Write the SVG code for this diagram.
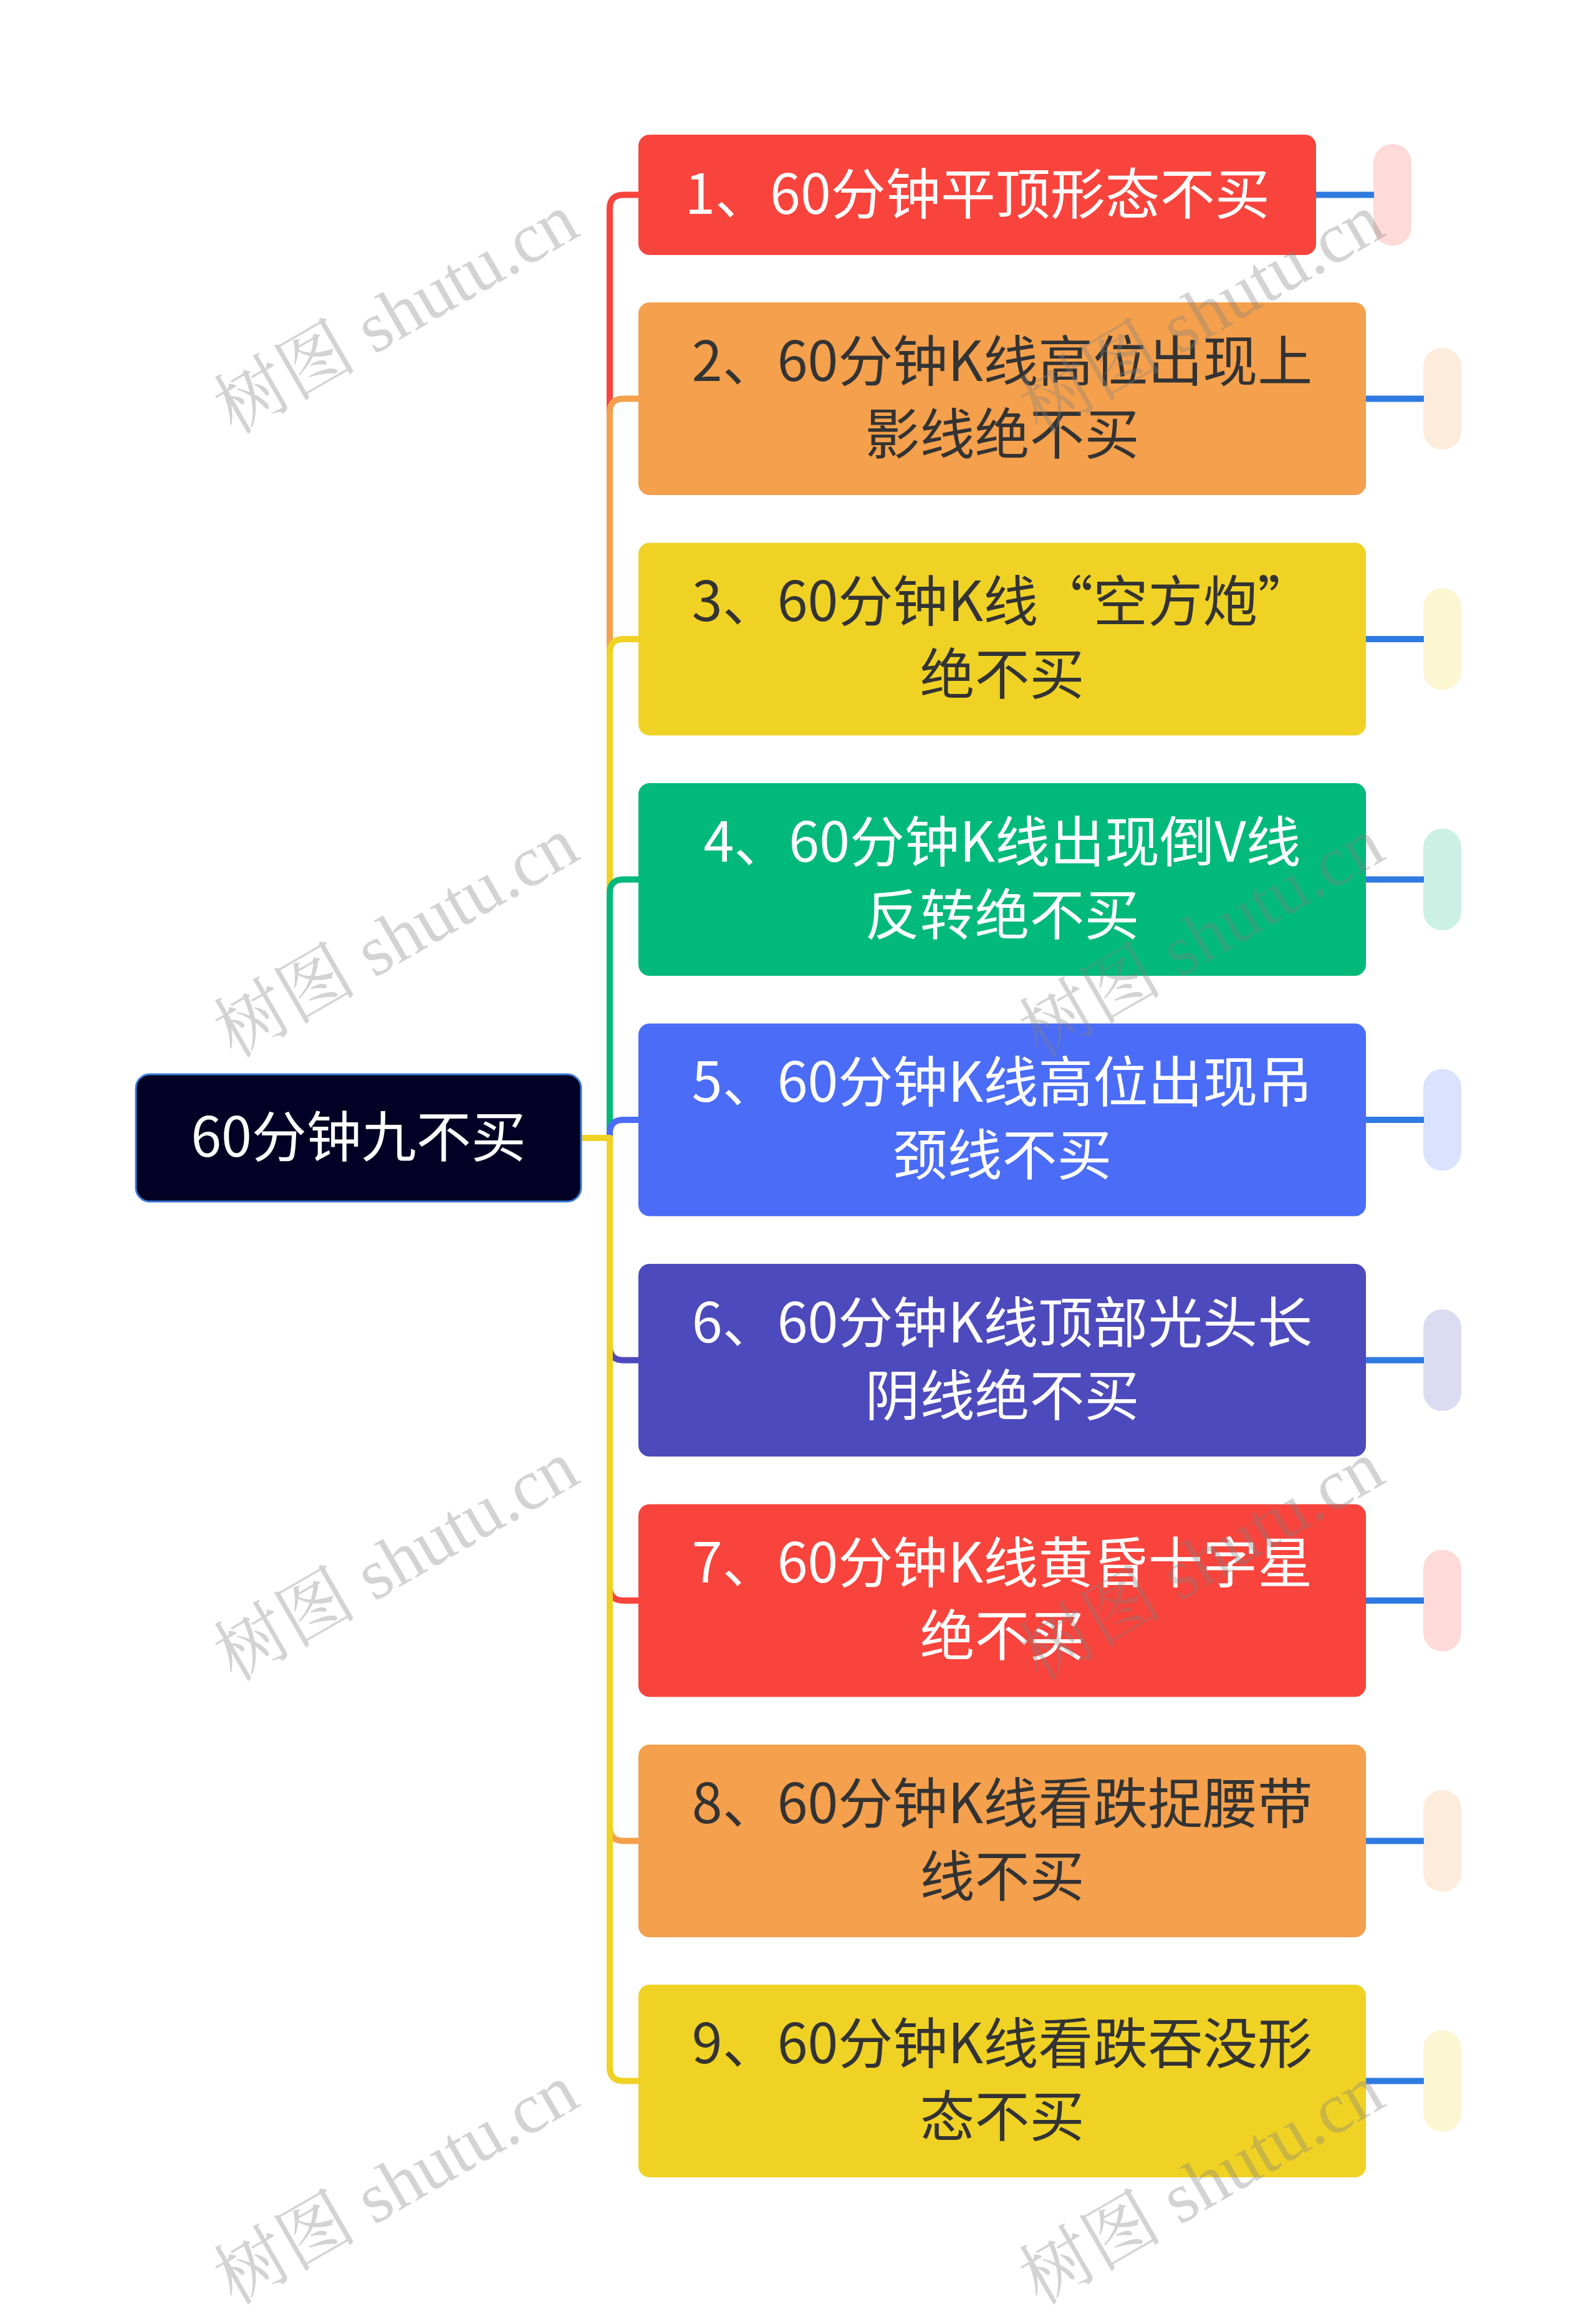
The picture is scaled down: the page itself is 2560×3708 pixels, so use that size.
<svg xmlns="http://www.w3.org/2000/svg" width="2560" height="3708" viewBox="0 0 2560 3708">
<style>
.t{font-family:"Noto Sans CJK SC","Noto Sans",sans-serif;font-size:88px;text-anchor:middle}
.lw{fill:#ffffff}
.ld{fill:#333333}
.c{fill:none;stroke-width:10;stroke-linejoin:round}
.p{fill:none;stroke:#2e7ae0;stroke-width:10}
.wm{font-family:"Liberation Serif","Noto Serif CJK SC","Noto Sans CJK SC",serif;font-size:115px;fill:#808080;fill-opacity:0.35;text-anchor:middle}
</style>
<rect x="0" y="0" width="2560" height="3708" fill="#ffffff"/>
<g id="connectors">
<path class="c" stroke="#f8443c" d="M932,1825 H978 V334.5 Q978,312.5 1000,312.5 H1024"/>
<path class="c" stroke="#f4a04c" d="M932,1825 H978 V661.5 Q978,639.5 1000,639.5 H1024"/>
<path class="c" stroke="#f0d224" d="M932,1825 H978 V1047 Q978,1025 1000,1025 H1024"/>
<path class="c" stroke="#00b97a" d="M932,1825 H978 V1432.5 Q978,1410.5 1000,1410.5 H1024"/>
<path class="c" stroke="#4a6cf7" d="M932,1825 H978 V1818 Q978,1796 1000,1796 H1024"/>
<path class="c" stroke="#4d4abd" d="M932,1825 H978 V2159.5 Q978,2181.5 1000,2181.5 H1024"/>
<path class="c" stroke="#f8443c" d="M932,1825 H978 V2545 Q978,2567 1000,2567 H1024"/>
<path class="c" stroke="#f4a04c" d="M932,1825 H978 V2930.5 Q978,2952.5 1000,2952.5 H1024"/>
<path class="c" stroke="#f0d224" d="M932,1825 H978 V3315.5 Q978,3337.5 1000,3337.5 H1024"/>
<path class="p" d="M2111,312.5 H2204"/>
<path class="p" d="M2191,639.5 H2284"/>
<path class="p" d="M2191,1025 H2284"/>
<path class="p" d="M2191,1410.5 H2284"/>
<path class="p" d="M2191,1796 H2284"/>
<path class="p" d="M2191,2181.5 H2284"/>
<path class="p" d="M2191,2567 H2284"/>
<path class="p" d="M2191,2952.5 H2284"/>
<path class="p" d="M2191,3337.5 H2284"/>
</g>
<g id="root">
<rect x="218" y="1723" width="714" height="204" rx="22" fill="#020024" stroke="#3a78d8" stroke-width="3"/>
<text class="t lw" x="575" y="1855">60分钟九不买</text>
</g>
<g id="n1">
<rect x="1024" y="216" width="1087" height="193" rx="18" fill="#f8443c"/>
<text class="t lw" x="1567.5" y="342.5">1、60分钟平顶形态不买</text>
<rect x="2203" y="231" width="61" height="163" rx="30" fill="#f8443c" fill-opacity="0.2"/>
</g>
<g id="n2">
<rect x="1024" y="485" width="1167" height="309" rx="18" fill="#f4a04c"/>
<text class="t ld" x="1607.5" y="610.5">2、60分钟K线高位出现上</text>
<text class="t ld" x="1607.5" y="727.5">影线绝不买</text>
<rect x="2283" y="558" width="61" height="163" rx="30" fill="#f4a04c" fill-opacity="0.2"/>
</g>
<g id="n3">
<rect x="1024" y="870.5" width="1167" height="309" rx="18" fill="#f0d224"/>
<text class="t ld" x="1607.5" y="996">3、60分钟K线“空方炮”</text>
<text class="t ld" x="1607.5" y="1113">绝不买</text>
<rect x="2283" y="943.5" width="61" height="163" rx="30" fill="#f0d224" fill-opacity="0.2"/>
</g>
<g id="n4">
<rect x="1024" y="1256" width="1167" height="309" rx="18" fill="#00b97a"/>
<text class="t lw" x="1607.5" y="1381.5">4、60分钟K线出现倒V线</text>
<text class="t lw" x="1607.5" y="1498.5">反转绝不买</text>
<rect x="2283" y="1329" width="61" height="163" rx="30" fill="#00b97a" fill-opacity="0.2"/>
</g>
<g id="n5">
<rect x="1024" y="1641.5" width="1167" height="309" rx="18" fill="#4a6cf7"/>
<text class="t lw" x="1607.5" y="1767">5、60分钟K线高位出现吊</text>
<text class="t lw" x="1607.5" y="1884">颈线不买</text>
<rect x="2283" y="1714.5" width="61" height="163" rx="30" fill="#4a6cf7" fill-opacity="0.2"/>
</g>
<g id="n6">
<rect x="1024" y="2027" width="1167" height="309" rx="18" fill="#4d4abd"/>
<text class="t lw" x="1607.5" y="2152.5">6、60分钟K线顶部光头长</text>
<text class="t lw" x="1607.5" y="2269.5">阴线绝不买</text>
<rect x="2283" y="2100" width="61" height="163" rx="30" fill="#4d4abd" fill-opacity="0.2"/>
</g>
<g id="n7">
<rect x="1024" y="2412.5" width="1167" height="309" rx="18" fill="#f8443c"/>
<text class="t lw" x="1607.5" y="2538">7、60分钟K线黄昏十字星</text>
<text class="t lw" x="1607.5" y="2655">绝不买</text>
<rect x="2283" y="2485.5" width="61" height="163" rx="30" fill="#f8443c" fill-opacity="0.2"/>
</g>
<g id="n8">
<rect x="1024" y="2798" width="1167" height="309" rx="18" fill="#f4a04c"/>
<text class="t ld" x="1607.5" y="2923.5">8、60分钟K线看跌捉腰带</text>
<text class="t ld" x="1607.5" y="3040.5">线不买</text>
<rect x="2283" y="2871" width="61" height="163" rx="30" fill="#f4a04c" fill-opacity="0.2"/>
</g>
<g id="n9">
<rect x="1024" y="3183" width="1167" height="309" rx="18" fill="#f0d224"/>
<text class="t ld" x="1607.5" y="3308.5">9、60分钟K线看跌吞没形</text>
<text class="t ld" x="1607.5" y="3425.5">态不买</text>
<rect x="2283" y="3256" width="61" height="163" rx="30" fill="#f0d224" fill-opacity="0.2"/>
</g>
<g id="watermarks">
<text class="wm" transform="translate(655,537) rotate(-30)">树图 shutu.cn</text>
<text class="wm" transform="translate(1947,537) rotate(-30)">树图 shutu.cn</text>
<text class="wm" transform="translate(655,1537) rotate(-30)">树图 shutu.cn</text>
<text class="wm" transform="translate(1947,1537) rotate(-30)">树图 shutu.cn</text>
<text class="wm" transform="translate(655,2537) rotate(-30)">树图 shutu.cn</text>
<text class="wm" transform="translate(1947,2537) rotate(-30)">树图 shutu.cn</text>
<text class="wm" transform="translate(655,3537) rotate(-30)">树图 shutu.cn</text>
<text class="wm" transform="translate(1947,3537) rotate(-30)">树图 shutu.cn</text>
</g>
</svg>
